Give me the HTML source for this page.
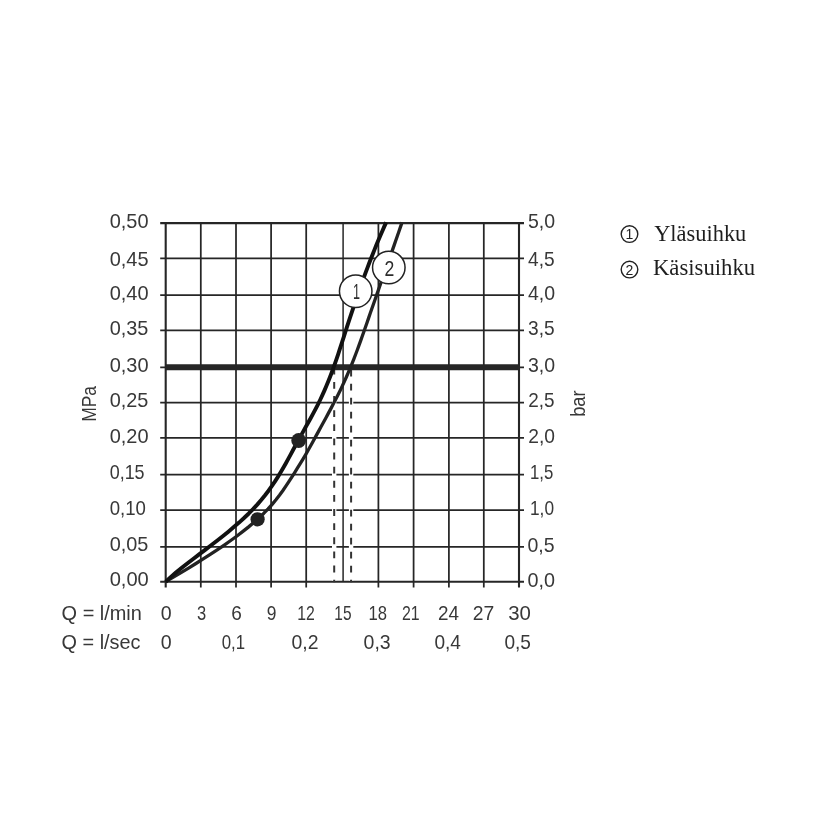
<!DOCTYPE html>
<html><head><meta charset="utf-8"><title>Chart</title>
<style>html,body{margin:0;padding:0;background:#fff;}svg{display:block;will-change:transform;}</style></head>
<body>
<svg width="831" height="839" viewBox="0 0 831 839">
<rect width="831" height="839" fill="#fff"/>
<line x1="160.20" y1="223.15" x2="524.00" y2="223.15" stroke="#262626" stroke-width="2.1"/>
<line x1="160.20" y1="258.30" x2="524.00" y2="258.30" stroke="#262626" stroke-width="1.75"/>
<line x1="160.20" y1="295.00" x2="524.00" y2="295.00" stroke="#262626" stroke-width="1.75"/>
<line x1="160.20" y1="330.30" x2="524.00" y2="330.30" stroke="#262626" stroke-width="1.75"/>
<line x1="160.20" y1="367.25" x2="524.00" y2="367.25" stroke="#262626" stroke-width="1.75"/>
<line x1="160.20" y1="402.60" x2="524.00" y2="402.60" stroke="#262626" stroke-width="1.75"/>
<line x1="160.20" y1="437.90" x2="524.00" y2="437.90" stroke="#262626" stroke-width="1.75"/>
<line x1="160.20" y1="474.50" x2="524.00" y2="474.50" stroke="#262626" stroke-width="1.75"/>
<line x1="160.20" y1="510.00" x2="524.00" y2="510.00" stroke="#262626" stroke-width="1.75"/>
<line x1="160.20" y1="546.80" x2="524.00" y2="546.80" stroke="#262626" stroke-width="1.75"/>
<line x1="160.20" y1="581.75" x2="524.00" y2="581.75" stroke="#262626" stroke-width="2.1"/>
<line x1="165.70" y1="222.35" x2="165.70" y2="587.45" stroke="#262626" stroke-width="2.1"/>
<line x1="200.80" y1="222.35" x2="200.80" y2="587.45" stroke="#262626" stroke-width="1.75"/>
<line x1="236.00" y1="222.35" x2="236.00" y2="587.45" stroke="#262626" stroke-width="1.75"/>
<line x1="271.10" y1="222.35" x2="271.10" y2="587.45" stroke="#262626" stroke-width="1.75"/>
<line x1="306.20" y1="222.35" x2="306.20" y2="587.45" stroke="#262626" stroke-width="1.75"/>
<line x1="343.10" y1="222.35" x2="343.10" y2="581.75" stroke="#262626" stroke-width="1.5"/>
<line x1="378.40" y1="222.35" x2="378.40" y2="587.45" stroke="#262626" stroke-width="1.75"/>
<line x1="413.60" y1="222.35" x2="413.60" y2="587.45" stroke="#262626" stroke-width="1.75"/>
<line x1="448.90" y1="222.35" x2="448.90" y2="587.45" stroke="#262626" stroke-width="1.75"/>
<line x1="483.80" y1="222.35" x2="483.80" y2="587.45" stroke="#262626" stroke-width="1.75"/>
<line x1="519.00" y1="222.35" x2="519.00" y2="587.45" stroke="#262626" stroke-width="2.1"/>
<line x1="334.2" y1="371" x2="334.2" y2="580.5" stroke="#fff" stroke-width="4.4"/>
<line x1="334.2" y1="367.8" x2="334.2" y2="582.2" stroke="#333" stroke-width="2" stroke-dasharray="6.8 7.33"/>
<line x1="351.1" y1="371" x2="351.1" y2="580.5" stroke="#fff" stroke-width="4.4"/>
<line x1="351.1" y1="369.8" x2="351.1" y2="582.2" stroke="#333" stroke-width="2" stroke-dasharray="6.8 7.20"/>
<line x1="165.70" y1="367.25" x2="520.00" y2="367.25" stroke="#262626" stroke-width="6.0"/>
<path d="M165.70,581.70 L173.41,577.15 L181.04,572.60 L188.56,568.05 L195.95,563.51 L203.20,558.96 L210.28,554.41 L217.19,549.86 L223.89,545.31 L230.38,540.76 L236.63,536.21 L242.62,531.66 L248.34,527.12 L253.76,522.57 L258.87,518.02 L263.66,513.47 L268.09,508.92 L272.17,504.37 L275.94,499.82 L279.45,495.27 L282.75,490.73 L285.87,486.18 L288.86,481.63 L291.78,477.08 L294.67,472.53 L297.53,467.98 L300.36,463.43 L303.13,458.88 L305.81,454.34 L308.40,449.79 L310.93,445.24 L313.42,440.69 L315.90,436.14 L318.39,431.59 L320.88,427.04 L323.37,422.49 L325.85,417.95 L328.31,413.40 L330.74,408.85 L333.13,404.30 L335.49,399.75 L337.80,395.20 L340.05,390.65 L342.23,386.10 L344.35,381.56 L346.39,377.01 L348.36,372.46 L350.27,367.91 L352.12,363.36 L353.92,358.81 L355.67,354.26 L357.38,349.71 L359.06,345.17 L360.70,340.62 L362.32,336.07 L363.92,331.52 L365.51,326.97 L367.08,322.42 L368.66,317.87 L370.23,313.32 L371.82,308.78 L373.41,304.23 L375.00,299.68 L376.59,295.13 L378.19,290.58 L379.79,286.03 L381.40,281.48 L383.00,276.93 L384.60,272.39 L386.21,267.84 L387.81,263.29 L389.41,258.74 L391.00,254.19 L392.60,249.64 L394.19,245.09 L395.77,240.54 L397.35,236.00 L398.92,231.45 L400.49,226.90 L402.05,222.35" fill="none" stroke="#222" stroke-width="3.3" stroke-linejoin="round"/>
<path d="M165.70,581.70 L170.64,577.15 L175.91,572.60 L181.47,568.05 L187.23,563.51 L193.14,558.96 L199.13,554.41 L205.14,549.86 L211.11,545.31 L216.98,540.76 L222.73,536.21 L228.34,531.66 L233.78,527.12 L239.02,522.57 L244.03,518.02 L248.79,513.47 L253.27,508.92 L257.47,504.37 L261.39,499.82 L265.06,495.27 L268.51,490.73 L271.76,486.18 L274.83,481.63 L277.74,477.08 L280.52,472.53 L283.18,467.98 L285.76,463.43 L288.27,458.88 L290.73,454.34 L293.18,449.79 L295.62,445.24 L298.10,440.69 L300.61,436.14 L303.15,431.59 L305.70,427.04 L308.25,422.49 L310.77,417.95 L313.25,413.40 L315.66,408.85 L318.00,404.30 L320.23,399.75 L322.36,395.20 L324.40,390.65 L326.35,386.10 L328.21,381.56 L330.01,377.01 L331.73,372.46 L333.40,367.91 L335.02,363.36 L336.59,358.81 L338.13,354.26 L339.63,349.71 L341.11,345.17 L342.58,340.62 L344.04,336.07 L345.50,331.52 L346.97,326.97 L348.45,322.42 L349.93,317.87 L351.43,313.32 L352.95,308.78 L354.48,304.23 L356.02,299.68 L357.59,295.13 L359.17,290.58 L360.77,286.03 L362.40,281.48 L364.05,276.93 L365.72,272.39 L367.42,267.84 L369.15,263.29 L370.91,258.74 L372.70,254.19 L374.52,249.64 L376.37,245.09 L378.25,240.54 L380.18,236.00 L382.14,231.45 L384.13,226.90 L386.17,222.35" fill="none" stroke="#111" stroke-width="3.9" stroke-linejoin="round"/>
<circle cx="298.7" cy="440.5" r="7.4" fill="#222"/>
<circle cx="257.6" cy="519.3" r="7.1" fill="#222"/>
<circle cx="355.7" cy="291.2" r="16.25" fill="#fff" stroke="#222" stroke-width="1.5"/>
<circle cx="388.8" cy="267.6" r="16.25" fill="#fff" stroke="#222" stroke-width="1.5"/>
<text x="353.00" y="298.60" font-family="Liberation Sans, sans-serif" font-size="21.5" fill="#2c2c2c" textLength="7.00" lengthAdjust="spacingAndGlyphs">1</text>
<text x="384.60" y="275.70" font-family="Liberation Sans, sans-serif" font-size="22.3" fill="#2c2c2c" textLength="9.80" lengthAdjust="spacingAndGlyphs">2</text>
<text x="109.70" y="227.75" font-family="Liberation Sans, sans-serif" font-size="19.8" fill="#383838" textLength="38.81" lengthAdjust="spacingAndGlyphs">0,50</text>
<text x="109.70" y="265.50" font-family="Liberation Sans, sans-serif" font-size="19.8" fill="#383838" textLength="38.81" lengthAdjust="spacingAndGlyphs">0,45</text>
<text x="109.70" y="299.60" font-family="Liberation Sans, sans-serif" font-size="19.8" fill="#383838" textLength="38.91" lengthAdjust="spacingAndGlyphs">0,40</text>
<text x="109.70" y="334.90" font-family="Liberation Sans, sans-serif" font-size="19.8" fill="#383838" textLength="38.71" lengthAdjust="spacingAndGlyphs">0,35</text>
<text x="109.70" y="371.85" font-family="Liberation Sans, sans-serif" font-size="19.8" fill="#383838" textLength="38.91" lengthAdjust="spacingAndGlyphs">0,30</text>
<text x="109.70" y="407.20" font-family="Liberation Sans, sans-serif" font-size="19.8" fill="#383838" textLength="38.71" lengthAdjust="spacingAndGlyphs">0,25</text>
<text x="109.70" y="442.50" font-family="Liberation Sans, sans-serif" font-size="19.8" fill="#383838" textLength="38.91" lengthAdjust="spacingAndGlyphs">0,20</text>
<text x="109.70" y="479.10" font-family="Liberation Sans, sans-serif" font-size="19.8" fill="#383838" textLength="34.91" lengthAdjust="spacingAndGlyphs">0,15</text>
<text x="109.70" y="514.60" font-family="Liberation Sans, sans-serif" font-size="19.8" fill="#383838" textLength="36.21" lengthAdjust="spacingAndGlyphs">0,10</text>
<text x="109.70" y="551.40" font-family="Liberation Sans, sans-serif" font-size="19.8" fill="#383838" textLength="38.71" lengthAdjust="spacingAndGlyphs">0,05</text>
<text x="109.70" y="586.35" font-family="Liberation Sans, sans-serif" font-size="19.8" fill="#383838" textLength="39.11" lengthAdjust="spacingAndGlyphs">0,00</text>
<text x="528.00" y="227.95" font-family="Liberation Sans, sans-serif" font-size="19.8" fill="#383838" textLength="27.10" lengthAdjust="spacingAndGlyphs">5,0</text>
<text x="528.00" y="265.90" font-family="Liberation Sans, sans-serif" font-size="19.8" fill="#383838" textLength="26.60" lengthAdjust="spacingAndGlyphs">4,5</text>
<text x="528.00" y="299.80" font-family="Liberation Sans, sans-serif" font-size="19.8" fill="#383838" textLength="27.10" lengthAdjust="spacingAndGlyphs">4,0</text>
<text x="528.00" y="335.10" font-family="Liberation Sans, sans-serif" font-size="19.8" fill="#383838" textLength="26.60" lengthAdjust="spacingAndGlyphs">3,5</text>
<text x="528.00" y="372.05" font-family="Liberation Sans, sans-serif" font-size="19.8" fill="#383838" textLength="27.10" lengthAdjust="spacingAndGlyphs">3,0</text>
<text x="528.30" y="407.40" font-family="Liberation Sans, sans-serif" font-size="19.8" fill="#383838" textLength="26.30" lengthAdjust="spacingAndGlyphs">2,5</text>
<text x="528.30" y="442.70" font-family="Liberation Sans, sans-serif" font-size="19.8" fill="#383838" textLength="26.70" lengthAdjust="spacingAndGlyphs">2,0</text>
<text x="530.00" y="479.30" font-family="Liberation Sans, sans-serif" font-size="19.8" fill="#383838" textLength="23.30" lengthAdjust="spacingAndGlyphs">1,5</text>
<text x="530.00" y="514.80" font-family="Liberation Sans, sans-serif" font-size="19.8" fill="#383838" textLength="24.00" lengthAdjust="spacingAndGlyphs">1,0</text>
<text x="527.50" y="551.60" font-family="Liberation Sans, sans-serif" font-size="19.8" fill="#383838" textLength="27.10" lengthAdjust="spacingAndGlyphs">0,5</text>
<text x="527.50" y="586.55" font-family="Liberation Sans, sans-serif" font-size="19.8" fill="#383838" textLength="27.50" lengthAdjust="spacingAndGlyphs">0,0</text>
<text x="160.80" y="620.20" font-family="Liberation Sans, sans-serif" font-size="19.8" fill="#383838" textLength="10.90" lengthAdjust="spacingAndGlyphs">0</text>
<text x="196.90" y="620.20" font-family="Liberation Sans, sans-serif" font-size="19.8" fill="#383838" textLength="9.20" lengthAdjust="spacingAndGlyphs">3</text>
<text x="231.30" y="620.20" font-family="Liberation Sans, sans-serif" font-size="19.8" fill="#383838" textLength="10.60" lengthAdjust="spacingAndGlyphs">6</text>
<text x="266.70" y="620.20" font-family="Liberation Sans, sans-serif" font-size="19.8" fill="#383838" textLength="9.70" lengthAdjust="spacingAndGlyphs">9</text>
<text x="297.30" y="620.20" font-family="Liberation Sans, sans-serif" font-size="19.8" fill="#383838" textLength="17.60" lengthAdjust="spacingAndGlyphs">12</text>
<text x="334.30" y="620.20" font-family="Liberation Sans, sans-serif" font-size="19.8" fill="#383838" textLength="17.20" lengthAdjust="spacingAndGlyphs">15</text>
<text x="368.40" y="620.20" font-family="Liberation Sans, sans-serif" font-size="19.8" fill="#383838" textLength="18.51" lengthAdjust="spacingAndGlyphs">18</text>
<text x="402.00" y="620.20" font-family="Liberation Sans, sans-serif" font-size="19.8" fill="#383838" textLength="17.70" lengthAdjust="spacingAndGlyphs">21</text>
<text x="437.90" y="620.20" font-family="Liberation Sans, sans-serif" font-size="19.8" fill="#383838" textLength="21.01" lengthAdjust="spacingAndGlyphs">24</text>
<text x="472.80" y="620.20" font-family="Liberation Sans, sans-serif" font-size="19.8" fill="#383838" textLength="21.51" lengthAdjust="spacingAndGlyphs">27</text>
<text x="508.20" y="620.20" font-family="Liberation Sans, sans-serif" font-size="19.8" fill="#383838" textLength="22.71" lengthAdjust="spacingAndGlyphs">30</text>
<text x="160.80" y="648.50" font-family="Liberation Sans, sans-serif" font-size="19.8" fill="#383838" textLength="10.90" lengthAdjust="spacingAndGlyphs">0</text>
<text x="221.70" y="648.50" font-family="Liberation Sans, sans-serif" font-size="19.8" fill="#383838" textLength="23.40" lengthAdjust="spacingAndGlyphs">0,1</text>
<text x="291.50" y="648.50" font-family="Liberation Sans, sans-serif" font-size="19.8" fill="#383838" textLength="27.00" lengthAdjust="spacingAndGlyphs">0,2</text>
<text x="363.60" y="648.50" font-family="Liberation Sans, sans-serif" font-size="19.8" fill="#383838" textLength="27.10" lengthAdjust="spacingAndGlyphs">0,3</text>
<text x="434.40" y="648.50" font-family="Liberation Sans, sans-serif" font-size="19.8" fill="#383838" textLength="26.50" lengthAdjust="spacingAndGlyphs">0,4</text>
<text x="504.40" y="648.50" font-family="Liberation Sans, sans-serif" font-size="19.8" fill="#383838" textLength="26.50" lengthAdjust="spacingAndGlyphs">0,5</text>
<text x="61.60" y="620.20" font-family="Liberation Sans, sans-serif" font-size="19.8" fill="#383838" textLength="80.30" lengthAdjust="spacingAndGlyphs">Q = l/min</text>
<text x="61.60" y="648.50" font-family="Liberation Sans, sans-serif" font-size="19.8" fill="#383838" textLength="78.89" lengthAdjust="spacingAndGlyphs">Q = l/sec</text>
<text x="0.00" y="0.00" font-family="Liberation Sans, sans-serif" font-size="19.8" fill="#383838" textLength="35.89" lengthAdjust="spacingAndGlyphs" transform="translate(96.2,421.8) rotate(-90)">MPa</text>
<text x="0.00" y="0.00" font-family="Liberation Sans, sans-serif" font-size="20.6" fill="#383838" textLength="26.41" lengthAdjust="spacingAndGlyphs" transform="translate(584.7,416.8) rotate(-90)">bar</text>
<circle cx="629.5" cy="234.1" r="8.3" fill="none" stroke="#222" stroke-width="1.4"/>
<text x="629.5" y="239.1" font-family="Liberation Sans, sans-serif" font-size="14" fill="#222" text-anchor="middle">1</text>
<text x="654.20" y="240.70" font-family="Liberation Serif, serif" font-size="23.2" fill="#1e1e1e" textLength="92.10" lengthAdjust="spacingAndGlyphs">Yläsuihku</text>
<circle cx="629.5" cy="269.6" r="8.3" fill="none" stroke="#222" stroke-width="1.4"/>
<text x="629.5" y="274.6" font-family="Liberation Sans, sans-serif" font-size="14" fill="#222" text-anchor="middle">2</text>
<text x="652.90" y="275.40" font-family="Liberation Serif, serif" font-size="23.2" fill="#1e1e1e" textLength="102.30" lengthAdjust="spacingAndGlyphs">Käsisuihku</text>
</svg>
</body></html>
